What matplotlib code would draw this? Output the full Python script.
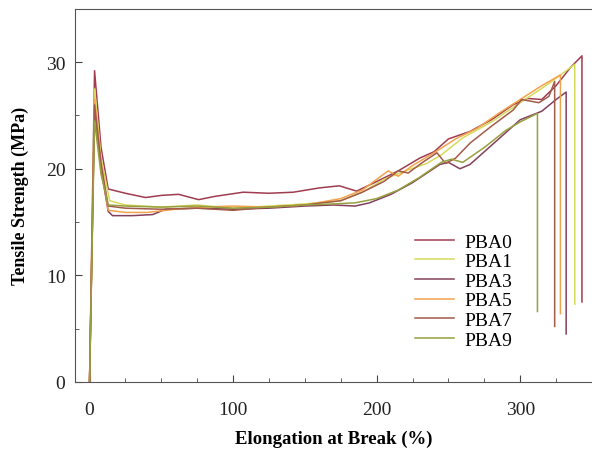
import numpy as np
import matplotlib
matplotlib.use('Agg')
import matplotlib.pyplot as plt
from matplotlib.ticker import MultipleLocator

plt.rcParams['font.family'] = ['Liberation Serif', 'DejaVu Serif']

labels = ['PBA0', 'PBA1', 'PBA3', 'PBA5', 'PBA7', 'PBA9']
colors = ['#a03c50', '#d6da5a', '#84405c', '#f2a24c', '#a25a4a', '#96a03e']

# elongation (%) and tensile strength (MPa)
pba0_x = [0, 3.5, 8, 13, 25, 39, 50, 62, 76, 87, 107, 125, 142, 160, 174, 186, 200, 215, 230, 240,
          250, 265, 280, 295, 305, 315, 325, 335, 343, 343]
pba0_y = [0, 29.2, 22, 18.1, 17.7, 17.3, 17.5, 17.6, 17.1, 17.4, 17.8, 17.7, 17.8, 18.2, 18.4, 17.9,
          18.8, 19.8, 21.0, 21.6, 22.8, 23.5, 24.6, 26.0, 26.6, 26.5, 27.8, 29.5, 30.6, 7.5]

pba1_x = [0, 3.5, 8, 14, 25, 50, 75, 100, 125, 150, 175, 190, 205, 220, 235, 245, 260, 280, 300,
          320, 338, 338]
pba1_y = [0, 27.5, 21, 17.0, 16.6, 16.4, 16.6, 16.3, 16.5, 16.7, 17.0, 17.8, 19.0, 19.8, 20.5, 21.3,
          22.9, 24.4, 26.2, 28.0, 29.8, 7.3]

pba3_x = [0, 3.5, 8, 13, 16, 30, 44, 53, 75, 100, 125, 150, 170, 185, 195, 210, 225, 244, 250, 258,
          265, 280, 295, 300, 315, 325, 332, 332]
pba3_y = [0, 25.8, 20, 16.0, 15.6, 15.6, 15.7, 16.2, 16.3, 16.2, 16.3, 16.5, 16.6, 16.5, 16.8, 17.6,
          18.7, 20.4, 20.6, 20.0, 20.4, 22.2, 24.0, 24.6, 25.4, 26.5, 27.2, 4.5]

pba5_x = [0, 3.5, 8, 13, 25, 40, 60, 80, 100, 125, 150, 175, 190, 200, 208, 215, 225, 240, 255, 270,
          285, 300, 315, 328, 328]
pba5_y = [0, 26.5, 20.5, 16.1, 15.9, 15.9, 16.2, 16.4, 16.5, 16.4, 16.6, 17.2, 18.0, 19.0, 19.8,
          19.3, 20.3, 21.5, 22.8, 23.8, 25.2, 26.5, 27.8, 28.8, 6.4]

pba7_x = [0, 3.5, 8, 13, 25, 50, 75, 100, 125, 150, 175, 190, 205, 215, 222, 232, 242, 248, 255, 265,
          280, 295, 301, 313, 320, 324, 324]
pba7_y = [0, 26.0, 20.5, 16.5, 16.3, 16.2, 16.3, 16.1, 16.4, 16.6, 17.0, 17.8, 18.8, 19.8, 19.6,
          20.6, 21.5, 20.5, 21.0, 22.4, 24.0, 25.5, 26.5, 26.2, 26.8, 28.2, 5.2]

pba9_x = [0, 3.5, 8, 13, 25, 50, 75, 100, 125, 150, 170, 185, 200, 215, 230, 245, 252, 260, 275,
          290, 300, 312, 312]
pba9_y = [0, 24.5, 19.5, 16.6, 16.5, 16.4, 16.5, 16.3, 16.4, 16.6, 16.7, 16.8, 17.2, 18.0, 19.2,
          20.6, 20.9, 20.6, 22.0, 23.6, 24.4, 25.2, 6.6]

series = [(pba0_x, pba0_y), (pba1_x, pba1_y), (pba3_x, pba3_y),
          (pba5_x, pba5_y), (pba7_x, pba7_y), (pba9_x, pba9_y)]

fig = plt.figure(figsize=(5.92, 4.52), dpi=100)
ax = fig.add_axes([0.127, 0.153, 0.873, 0.825])

for (xs, ys), lab, c in zip(series, labels, colors):
    ax.plot(xs, ys, color=c, lw=1.1, label=lab)

ax.set_xlim(-10, 350)
ax.set_ylim(0, 35)
ax.xaxis.set_major_locator(MultipleLocator(100))
ax.xaxis.set_minor_locator(MultipleLocator(25))
ax.yaxis.set_major_locator(MultipleLocator(10))
ax.yaxis.set_minor_locator(MultipleLocator(5))
ax.tick_params(which='both', direction='in', colors='#444444', labelcolor='#222222', labelsize=14)
ax.tick_params(which='major', length=5)
ax.tick_params(which='minor', length=3)
ax.tick_params(axis='x', pad=14)
ax.tick_params(axis='y', pad=7)
ax.spines['right'].set_visible(False)
for s in ['left', 'bottom', 'top']:
    ax.spines[s].set_color('#555555')

ax.set_xlabel('Elongation at Break (%)', fontsize=13.5, fontweight='bold', labelpad=8)
ax.set_ylabel('Tensile Strength (MPa)', fontsize=13, fontweight='bold', labelpad=12)

ax.legend(loc='upper left', bbox_to_anchor=(0.701, 0.482), bbox_transform=fig.transFigure,
          frameon=False, fontsize=14, handlelength=2.0, handletextpad=0.55,
          labelspacing=0.1, borderpad=0, borderaxespad=0)

fig.savefig('out.png', dpi=100)
